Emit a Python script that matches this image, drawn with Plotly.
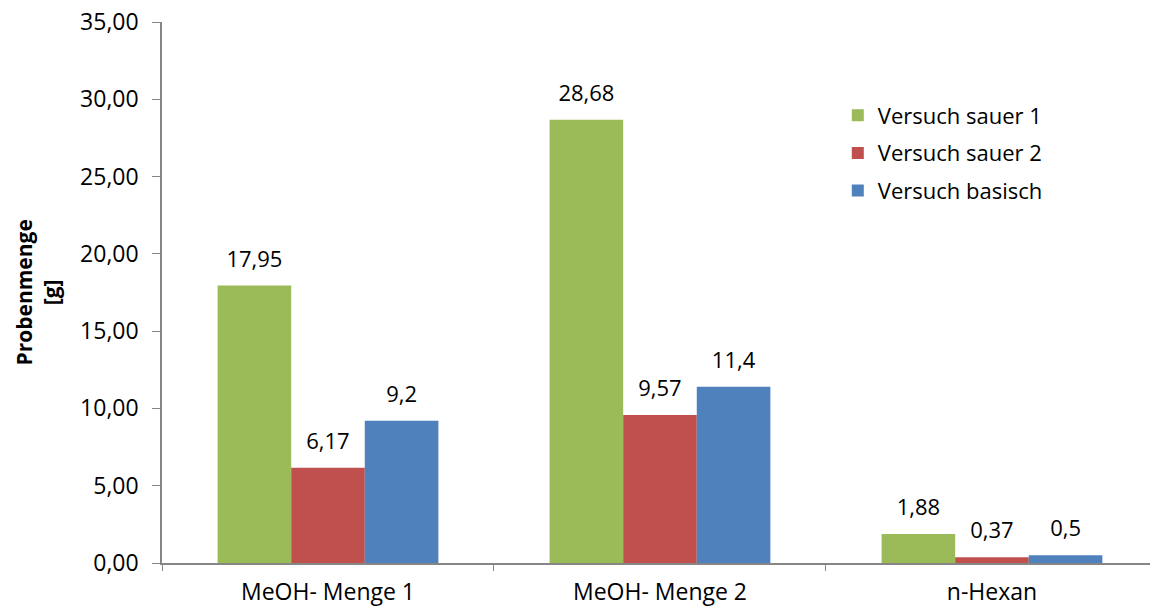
import plotly.graph_objects as go

categories = ["MeOH- Menge 1", "MeOH- Menge 2", "n-Hexan"]
series_names = ["Versuch sauer 1", "Versuch sauer 2", "Versuch basisch"]
sauer_1 = [17.95, 28.68, 1.88]
sauer_2 = [6.17, 9.57, 0.37]
basisch = [9.2, 11.4, 0.5]
colors = ["#9BBB59", "#C0504D", "#4F81BD"]

font_family = "'Open Sans', sans-serif"


def label(v):
    return str(v).replace(".", ",")


fig = go.Figure()
for i, (name, vals, col) in enumerate(zip(series_names, [sauer_1, sauer_2, basisch], colors)):
    fig.add_trace(go.Bar(
        x=categories, y=vals, name=name, legendgroup=name,
        offsetgroup=str(i),
        marker=dict(color=col, line=dict(width=0)),
        hoverinfo="x+y",
    ))
    # value labels, grouped alongside the bars and lifted a little above them
    fig.add_trace(go.Scatter(
        x=categories, y=vals, mode="markers+text", offsetgroup=str(i),
        text=[label(v) for v in vals], textposition="top center",
        textfont=dict(size=22, color="#000000", family=font_family),
        marker=dict(size=20, color="rgba(0,0,0,0)"),
        showlegend=False, hoverinfo="skip", cliponaxis=False,
    ))

W, H = 1150, 610
ml, mr, mt, mb = 162, 0, 22, 47
fig.update_layout(
    width=W, height=H,
    margin=dict(l=ml, r=mr, t=mt, b=mb, autoexpand=False),
    paper_bgcolor="white", plot_bgcolor="white",
    barmode="group", bargap=0.335, bargroupgap=0,
    scattermode="group", scattergap=0.335,
    separators=",.",
    font=dict(family=font_family, size=23, color="#000000"),
    showlegend=True,
    legend=dict(
        x=0.684, y=0.866, xanchor="left", yanchor="top",
        font=dict(size=22), tracegroupgap=6, itemwidth=30,
        bgcolor="rgba(0,0,0,0)",
    ),
    xaxis=dict(
        type="category", range=[-0.5, 2.476], automargin=False,
        showline=True, linecolor="#868686", linewidth=1.5,
        ticks="outside", tickson="boundaries", ticklen=6, tickcolor="#868686",
        showgrid=False, zeroline=False,
        tickfont=dict(size=23), ticklabelstandoff=8,
    ),
    yaxis=dict(
        range=[0, 35], tickvals=[0, 5, 10, 15, 20, 25, 30, 35],
        tickformat=".2f", automargin=False,
        showline=True, linecolor="#868686", linewidth=1.5,
        ticks="outside", ticklen=8, tickcolor="#868686",
        showgrid=False, zeroline=False,
        tickfont=dict(size=23), ticklabelstandoff=9,
    ),
    annotations=[dict(
        text="<b>Probenmenge<br>[g]</b>", textangle=-90,
        xref="paper", yref="paper",
        x=(37 - ml) / (W - ml - mr), y=0.5,
        xanchor="center", yanchor="middle", showarrow=False,
        font=dict(size=21),
    )],
)

fig.write_html("out.html")
